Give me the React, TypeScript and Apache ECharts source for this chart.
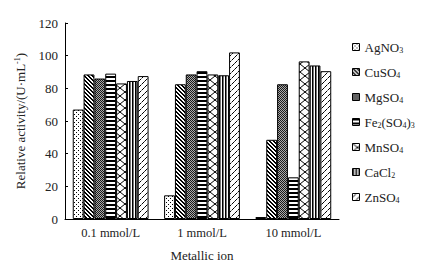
import React, { useEffect, useRef } from "react";
import * as echarts from "echarts";

const categories = ["0.1 mmol/L", "1 mmol/L", "10 mmol/L"];
const seriesNames = ["AgNO3", "CuSO4", "MgSO4", "Fe2(SO4)3", "MnSO4", "CaCl2", "ZnSO4"];
const legendLabels = [
  "AgNO{s|3}",
  "CuSO{s|4}",
  "MgSO{s|4}",
  "Fe{s|2}(SO{s|4}){s|3}",
  "MnSO{s|4}",
  "CaCl{s|2}",
  "ZnSO{s|4}",
];
const agno3 = [67, 14.5, 1.2];
const cuso4 = [88.5, 82.5, 48.5];
const mgso4 = [86, 88.5, 82.5];
const fe2so43 = [89, 90.5, 25.5];
const mnso4 = [83, 88.5, 96.5];
const cacl2 = [84.5, 88, 94];
const znso4 = [87.5, 102, 90.5];
const seriesValues = [agno3, cuso4, mgso4, fe2so43, mnso4, cacl2, znso4];
const yMin = 0;
const yMax = 120;
const yInterval = 20;

const FONT = "'Liberation Serif', 'Times New Roman', serif";

type Draw = (ctx: CanvasRenderingContext2D, w: number, h: number) => void;

function makePattern(w: number, h: number, draw: Draw) {
  const c = document.createElement("canvas");
  c.width = w;
  c.height = h;
  const ctx = c.getContext("2d")!;
  ctx.fillStyle = "#fff";
  ctx.fillRect(0, 0, w, h);
  ctx.fillStyle = "#000";
  ctx.strokeStyle = "#000";
  draw(ctx, w, h);
  return { image: c, repeat: "repeat", imageWidth: w, imageHeight: h } as any;
}

function buildPatterns() {
  const dots = makePattern(4, 4, (ctx) => {
    ctx.fillRect(0, 0, 1, 1);
    ctx.fillRect(2, 2, 1, 1);
  });
  const back = makePattern(4, 4, (ctx) => {
    for (let i = 0; i < 4; i++) {
      ctx.fillRect(i, i, 1, 1);
      ctx.fillRect((i + 1) % 4, i, 1, 1);
    }
  });
  const checker = makePattern(2, 2, (ctx) => {
    ctx.fillStyle = "#1a1a1a";
    ctx.fillRect(0, 0, 1, 1);
    ctx.fillRect(1, 1, 1, 1);
    ctx.fillStyle = "#aaa";
    ctx.fillRect(1, 0, 1, 1);
    ctx.fillRect(0, 1, 1, 1);
  });
  const horiz = makePattern(4, 4, (ctx) => {
    ctx.fillRect(0, 0, 4, 2);
  });
  const diamond = makePattern(10, 8, (ctx) => {
    ctx.lineWidth = 1;
    ctx.beginPath();
    ctx.moveTo(0, 0);
    ctx.lineTo(10, 8);
    ctx.moveTo(10, 0);
    ctx.lineTo(0, 8);
    ctx.stroke();
  });
  const vert = makePattern(3, 3, (ctx) => {
    ctx.fillRect(0, 0, 1, 3);
    ctx.fillStyle = "#777";
    ctx.fillRect(1, 0, 1, 3);
  });
  const slash = makePattern(6, 6, (ctx) => {
    ctx.lineWidth = 1;
    ctx.beginPath();
    ctx.moveTo(0.5, 3.5);
    ctx.lineTo(3.5, 0.5);
    ctx.moveTo(3.5, 6.5);
    ctx.lineTo(6.5, 3.5);
    ctx.moveTo(-2.5, 6.5);
    ctx.lineTo(0.5, 3.5);
    ctx.stroke();
  });
  return [dots, back, checker, horiz, diamond, vert, slash];
}

export default function App() {
  const ref = useRef<HTMLDivElement>(null);
  useEffect(() => {
    if (!ref.current) return;
    const chart = echarts.init(ref.current, null, { renderer: "svg" });
    const patterns = buildPatterns();
    const labelMap: Record<string, string> = {};
    seriesNames.forEach((n, i) => (labelMap[n] = legendLabels[i]));
    chart.setOption({
      animation: false,
      backgroundColor: "#fff",
      grid: { left: 65, top: 23, right: 85, bottom: 47 },
      legend: {
        orient: "vertical",
        left: 352,
        top: 40,
        padding: 0,
        itemWidth: 7,
        itemHeight: 7,
        itemGap: 11,
        icon: "rect",
        data: seriesNames,
        itemStyle: { borderColor: "#000", borderWidth: 1 },
        formatter: (name: string) => labelMap[name] || name,
        textStyle: {
          fontFamily: FONT,
          fontSize: 13,
          color: "#222",
          lineHeight: 14,
          rich: {
            s: { fontFamily: FONT, fontSize: 8, color: "#222", verticalAlign: "bottom", lineHeight: 9 },
          },
        },
      },
      xAxis: {
        type: "category",
        data: categories,
        name: "Metallic ion",
        nameLocation: "middle",
        nameGap: 30,
        nameTextStyle: { fontFamily: FONT, fontSize: 13, color: "#222" },
        axisLine: { lineStyle: { color: "#000", width: 1 } },
        axisTick: { show: false },
        axisLabel: { fontFamily: FONT, fontSize: 12.5, color: "#222", margin: 7 },
      },
      yAxis: {
        type: "value",
        min: yMin,
        max: yMax,
        interval: yInterval,
        name: "Relative activity/(U·mL{sup|-1})",
        nameLocation: "middle",
        nameGap: 32,
        nameTextStyle: {
          fontFamily: FONT,
          fontSize: 13,
          color: "#222",
          lineHeight: 14,
          rich: {
            sup: { fontFamily: FONT, fontSize: 8, color: "#222", verticalAlign: "top", lineHeight: 9 },
          },
        },
        splitLine: { show: false },
        axisLine: { show: true, lineStyle: { color: "#000", width: 1 } },
        axisTick: { show: true, inside: true, length: 3, lineStyle: { color: "#000" } },
        axisLabel: { fontFamily: FONT, fontSize: 13, color: "#222", margin: 7 },
      },
      series: seriesNames.map((name, i) => ({
        name,
        type: "bar",
        data: seriesValues[i],
        barGap: "0%",
        barCategoryGap: "17%",
        itemStyle: { color: patterns[i], borderColor: "#000", borderWidth: 1 },
      })),
    });
    return () => chart.dispose();
  }, []);
  return (
    <div
      ref={ref}
      style={{ position: "absolute", left: 0, top: 0, width: 424, height: 267 }}
    />
  );
}
